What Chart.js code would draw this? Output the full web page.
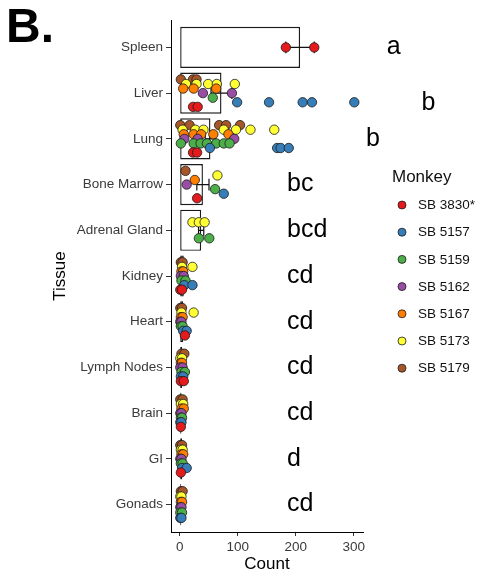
<!DOCTYPE html>
<html>
<head>
<meta charset="utf-8">
<script src="https://cdn.jsdelivr.net/npm/chart.js@4"></script>
<style>
  html, body { margin: 0; padding: 0; background: #fff; }
  #wrap { width: 478px; height: 580px; position: relative; }
</style>
</head>
<body>
<div id="wrap"><canvas id="chart" width="478" height="580"></canvas></div>
<script>
// Tissues, top to bottom
const tissues = ['Spleen', 'Liver', 'Lung', 'Bone Marrow', 'Adrenal Gland', 'Kidney',
  'Heart', 'Lymph Nodes', 'Brain', 'GI', 'Gonads'];

// Mean count per tissue and its standard error
const meanCount = [207.5, 72, 53, 40, 37, 7, 6, 4, 3, 4, 2.5];
const semCount = [24.5, 18, 9, 10.5, 4.5, 1.8, 1.8, 0.7, 0.5, 0.9, 0.4];

// Significance letters per tissue, with where each one sits (count, tissue row)
const sigLetters = ['a', 'b', 'b', 'bc', 'bcd', 'cd', 'cd', 'cd', 'cd', 'd', 'cd'];
const sigLetterX = [357, 417, 321, 185, 185, 185, 185, 185, 185, 185, 185];
const sigLetterRow = [0, 1.22, 2, 3, 4, 5, 6, 7, 8, 9, 10];

// Individual sample counts per monkey, one list per tissue (same order as tissues)
const sb3830 = [[183, 232], [23, 31], [23, 30], [30], [], [1, 4], [9], [2, 7], [2], [2], []];
const sb5157 = [[], [99, 154, 212, 228, 301], [52, 168, 174, 188], [76], [], [8, 22], [6, 12], [2, 6], [1, 3], [4, 12], [1, 3]];
const sb5159 = [[], [57], [2, 24, 36, 47, 63, 76, 86], [61], [33, 51], [3, 10], [2, 5], [3, 9], [2, 4], [2, 5], [1, 4]];
const sb5162 = [[], [40, 90], [8, 31, 94], [12], [], [2, 7], [1, 3], [1, 5], [1, 3], [1, 3], [1, 3]];
const sb5167 = [[], [6, 24, 63], [7, 24, 37, 58, 84], [26], [], [3, 6], [2, 5], [2, 4], [3, 7], [3, 6], [2, 4]];
const sb5173 = [[], [11, 29, 49, 64, 95], [5, 27, 41, 76, 97, 122, 163], [65], [22, 33, 43], [4, 22], [3, 24], [1, 4], [2, 6], [2, 5], [1, 3]];
const sb5179 = [[], [2, 23, 29], [1, 17, 68, 80, 104], [10], [], [2, 5], [1, 4], [3, 8], [1, 5], [1, 4], [2, 5]];

const monkeys = ['SB 3830*', 'SB 5157', 'SB 5159', 'SB 5162', 'SB 5167', 'SB 5173', 'SB 5179'];
const monkeyCounts = [sb3830, sb5157, sb5159, sb5162, sb5167, sb5173, sb5179];
const monkeyColors = ['#E41A1C', '#377EB8', '#4DAF4A', '#984EA3', '#FF7F00', '#FFFF33', '#A65628'];

const FONT = "'Liberation Sans', Arial, Helvetica, sans-serif";
Chart.defaults.font.family = FONT;

// Dodge the monkeys present in each tissue side by side within the row
const DODGE_WIDTH = 0.7;
function dodgedRow(tissueIdx, monkeyIdx) {
  const present = monkeyCounts.map((c, m) => c[tissueIdx].length ? m : -1).filter(m => m >= 0);
  const n = present.length;
  const rank = present.indexOf(monkeyIdx);
  return tissueIdx + ((n - 1) / 2 - rank) * (DODGE_WIDTH / n);
}

const pointDatasets = monkeys.map((name, m) => {
  const pts = [];
  monkeyCounts[m].forEach((vals, t) => {
    vals.forEach(v => pts.push({ x: v, y: dodgedRow(t, m) }));
  });
  return {
    type: 'scatter',
    label: name,
    data: pts,
    showLine: false,
    pointRadius: 4.7,
    pointHoverRadius: 4.7,
    pointBorderWidth: 0.8,
    backgroundColor: monkeyColors[m],
    borderColor: '#1a1a1a',
    order: 0
  };
});

const barDataset = {
  type: 'bar',
  label: 'Mean',
  data: meanCount.map((v, i) => ({ x: v, y: i })),
  backgroundColor: '#ffffff',
  borderColor: '#1a1a1a',
  borderWidth: 1.4,
  borderSkipped: false,
  categoryPercentage: 0.9,
  barPercentage: 1,
  order: 1
};

// Error bars, drawn right after the bars so the dots sit on top
const errorBars = {
  id: 'errorBars',
  afterDatasetDraw(chart, args) {
    if (chart.data.datasets[args.index] !== barDataset) return;
    const { ctx, scales: { x, y } } = chart;
    ctx.save();
    ctx.strokeStyle = '#111';
    ctx.lineWidth = 1.2;
    meanCount.forEach((m, i) => {
      const x0 = x.getPixelForValue(m - semCount[i]);
      const x1 = x.getPixelForValue(m + semCount[i]);
      const yc = y.getPixelForValue(i);
      const cap = Math.abs(y.getPixelForValue(i + 0.13) - yc);
      ctx.beginPath();
      ctx.moveTo(x0, yc); ctx.lineTo(x1, yc);
      ctx.moveTo(x0, yc - cap); ctx.lineTo(x0, yc + cap);
      ctx.moveTo(x1, yc - cap); ctx.lineTo(x1, yc + cap);
      ctx.stroke();
    });
    ctx.restore();
  }
};

// Panel tag, significance letters and the monkey key
const annotations = {
  id: 'annotations',
  afterDraw(chart) {
    const { ctx, scales: { x, y } } = chart;
    ctx.save();
    ctx.fillStyle = '#000';
    ctx.textAlign = 'left';
    ctx.textBaseline = 'alphabetic';
    ctx.font = `bold 48px ${FONT}`;
    ctx.fillText('B.', 6, 42);

    ctx.font = `25px ${FONT}`;
    ctx.textBaseline = 'middle';
    sigLetters.forEach((s, i) => {
      ctx.fillText(s, x.getPixelForValue(sigLetterX[i]), y.getPixelForValue(sigLetterRow[i]));
    });

    ctx.font = `17px ${FONT}`;
    ctx.fillStyle = '#111';
    ctx.fillText('Monkey', 392, 177);
    ctx.font = `13.5px ${FONT}`;
    monkeys.forEach((name, m) => {
      const yy = 205 + m * 27.2;
      ctx.beginPath();
      ctx.arc(402, yy, 4, 0, Math.PI * 2);
      ctx.fillStyle = monkeyColors[m];
      ctx.fill();
      ctx.lineWidth = 0.8;
      ctx.strokeStyle = '#1a1a1a';
      ctx.stroke();
      ctx.fillStyle = '#111';
      ctx.fillText(name, 418, yy + 0.5);
    });
    ctx.restore();
  }
};

new Chart(document.getElementById('chart'), {
  type: 'bar',
  data: { datasets: [barDataset, ...pointDatasets] },
  plugins: [errorBars, annotations],
  options: {
    indexAxis: 'y',
    responsive: false,
    animation: false,
    devicePixelRatio: 1,
    layout: { padding: { top: 20, right: 115, left: 46, bottom: 0 } },
    plugins: {
      legend: { display: false },
      tooltip: { enabled: false },
      title: { display: false }
    },
    scales: {
      x: {
        type: 'linear',
        position: 'bottom',
        min: -15,
        max: 316,
        offset: false,
        grid: { display: true, drawOnChartArea: false, drawTicks: true, tickLength: 4, color: '#333', offset: false },
        border: { display: true, color: '#000', width: 1 },
        ticks: { stepSize: 100, includeBounds: false, color: '#3a3a3a', font: { size: 13.5 }, padding: 3, maxRotation: 0 },
        title: { display: true, text: 'Count', color: '#000', font: { size: 17 }, padding: { top: 0, bottom: 5 } },
        afterFit(scale) { scale.height = 48; }
      },
      y: {
        type: 'linear',
        position: 'left',
        reverse: true,
        min: -0.6,
        max: 10.6,
        offset: false,
        grid: { display: true, drawOnChartArea: false, drawTicks: true, tickLength: 5, color: '#333', offset: false },
        border: { display: true, color: '#000', width: 1 },
        ticks: {
          stepSize: 1,
          includeBounds: false,
          autoSkip: false,
          color: '#3a3a3a',
          font: { size: 13.5 },
          padding: 3,
          callback: v => Number.isInteger(v) ? tissues[v] : ''
        },
        title: { display: true, text: 'Tissue', color: '#000', font: { size: 17 }, padding: { top: 4, bottom: 0 } },
        afterFit(scale) { scale.width = 125; }
      }
    }
  }
});
</script>
</body>
</html>
